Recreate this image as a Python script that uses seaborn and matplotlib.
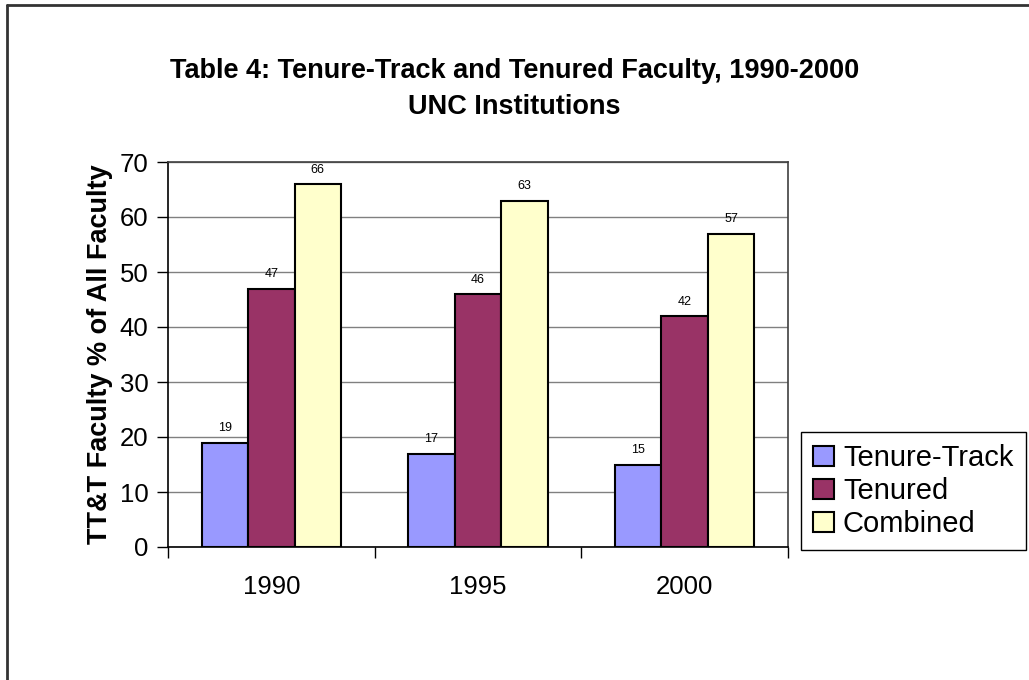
import matplotlib
matplotlib.use("Agg")
import matplotlib.pyplot as plt
import seaborn as sns
import pandas as pd
from matplotlib.lines import Line2D

years = ["1990", "1995", "2000"]
series = ["Tenure-Track", "Tenured", "Combined"]
tenure_track = [19, 17, 15]
tenured = [47, 46, 42]
combined = [66, 63, 57]
colors = ["#9999FF", "#993366", "#FFFFCC"]

df = pd.DataFrame({
    "year": years * 3,
    "group": [series[0]] * 3 + [series[1]] * 3 + [series[2]] * 3,
    "value": tenure_track + tenured + combined,
})

sns.set_theme(style="white")
plt.rcParams["font.family"] = ["Liberation Sans", "DejaVu Sans"]
plt.rcParams["text.color"] = "black"
plt.rcParams["axes.labelcolor"] = "black"
plt.rcParams["xtick.color"] = "black"
plt.rcParams["ytick.color"] = "black"

W, H = 1029, 680
fig = plt.figure(figsize=(W / 100, H / 100), dpi=100)
ax = fig.add_axes([168 / W, (H - 547) / H, 620 / W, 385 / H])

sns.barplot(data=df, x="year", y="value", hue="group", hue_order=series, order=years,
            palette=colors, width=0.675, edgecolor="black", linewidth=1.5,
            saturation=1, ax=ax, zorder=3)

for c in ax.containers:
    ax.bar_label(c, padding=6, fontsize=9, color="black")

ax.set_ylim(0, 70)
ax.set_yticks(range(0, 71, 10))
ax.set_xlim(-0.5, 2.5)
ax.yaxis.grid(True, color="#808080", linewidth=1, zorder=0)
ax.set_axisbelow(True)
for s in ax.spines.values():
    s.set_visible(True)
    s.set_color("black")
    s.set_linewidth(1.2)
ax.spines["top"].set_color("#404040")
ax.spines["right"].set_color("#404040")

# category labels centered, ticks at category boundaries
ax.set_xticks([0, 1, 2])
ax.set_xticklabels(years)
ax.tick_params(axis="x", length=0, pad=20, labelsize=18.5)
ax.set_xticks([-0.5, 0.5, 1.5, 2.5], minor=True)
ax.tick_params(axis="x", which="minor", length=8, width=1, color="black", direction="out", bottom=True)
ax.tick_params(axis="y", length=8, width=1, color="black", direction="out", left=True, labelsize=18.5, pad=6)

ax.set_xlabel("")
ax.set_ylabel("TT&T Faculty % of All Faculty", fontsize=19.5, fontweight="bold", labelpad=5)

leg = ax.legend(loc="upper left", bbox_to_anchor=(801 / W, (H - 432) / H),
                bbox_transform=fig.transFigure, frameon=True, fancybox=False,
                edgecolor="black", framealpha=1, fontsize=21, handlelength=0.72,
                handleheight=0.72, handletextpad=0.3, borderpad=0.42, labelspacing=0.17,
                borderaxespad=0)
leg.get_frame().set_linewidth(1)

fig.text(0.5, (H - 71) / H, "Table 4: Tenure-Track and Tenured Faculty, 1990-2000",
         ha="center", va="center", fontsize=19.5, fontweight="bold")
fig.text(0.5, (H - 107) / H, "UNC Institutions",
         ha="center", va="center", fontsize=19.5, fontweight="bold")

# outer chart frame (left and top edges visible)
fig.add_artist(Line2D([7 / W, 7 / W], [0, (H - 5) / H], transform=fig.transFigure,
                      color="#333333", linewidth=2))
fig.add_artist(Line2D([7 / W, 1], [(H - 5) / H, (H - 5) / H], transform=fig.transFigure,
                      color="#333333", linewidth=2))

fig.savefig("out.png", dpi=100, facecolor="white")
